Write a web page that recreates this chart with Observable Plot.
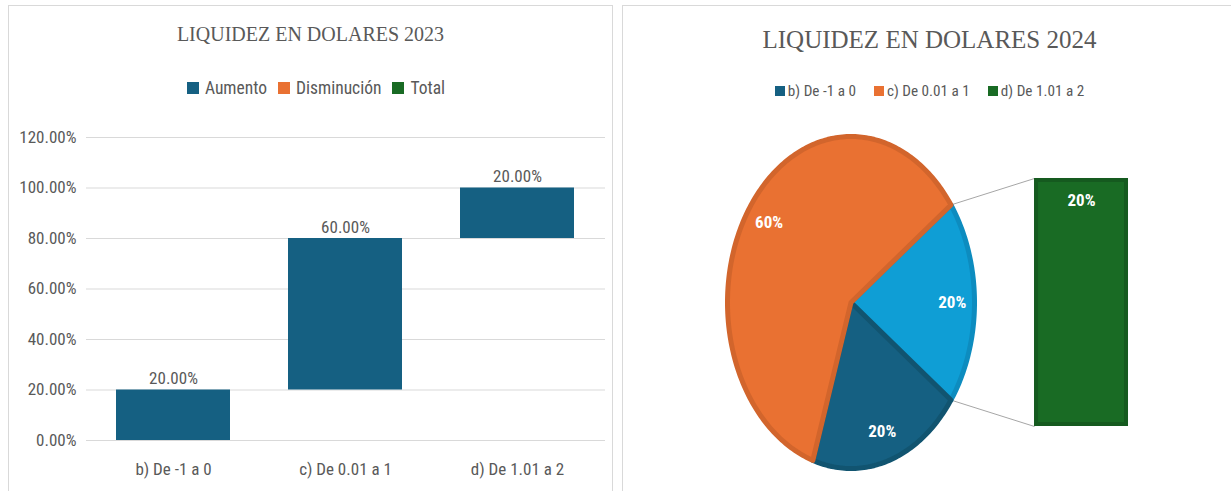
<!DOCTYPE html>
<html>
<head>
<meta charset="utf-8">
<script src="https://cdn.jsdelivr.net/npm/d3@7"></script>
<script src="https://cdn.jsdelivr.net/npm/@observablehq/plot@0.6"></script>
<style>
  body { margin: 0; background: #fff; width: 1231px; height: 491px; overflow: hidden; position: relative; }
  .panel { position: absolute; top: 5px; height: 500px; border: 1px solid #d9d9d9; box-sizing: border-box; background: #fff; }
  .title { position: absolute; left: 0; right: 0; text-align: center; font-family: "Liberation Serif", "DejaVu Serif", serif; color: #595959; }
  .legend { position: absolute; left: 0; right: 0; text-align: center; font-family: "Liberation Sans Narrow", "Roboto Condensed", "Open Sans", sans-serif; color: #595959; white-space: nowrap; }
  .legend span.sw { display: inline-block; vertical-align: middle; }
  .legend span.it { display: inline-block; vertical-align: middle; }
  .plot { position: absolute; }
</style>
</head>
<body>
<div class="panel" id="p1" style="left:8px;width:605px;">
  <div class="title" style="top:17px;font-size:20px;">LIQUIDEZ EN DOLARES 2023</div>
  <div class="legend" id="leg1" style="top:71px;font-size:17.5px;padding-left:11px;"></div>
  <div class="plot" id="c1" style="left:0px;top:108px;"></div>
</div>
<div class="panel" id="p2" style="left:622px;width:615px;">
  <div class="title" style="top:20px;font-size:25px;">LIQUIDEZ EN DOLARES 2024</div>
  <div class="legend" id="leg2" style="top:75px;font-size:15.2px;"></div>
  <div class="plot" id="c2" style="left:1px;top:114px;"></div>
</div>
<script>
// ---------- data ----------
const categories = ["b) De -1 a 0", "c) De 0.01 a 1", "d) De 1.01 a 2"];
const values2023 = [0.20, 0.60, 0.20];
const types2023 = ["Aumento", "Aumento", "Aumento"];
const legend2023 = ["Aumento", "Disminución", "Total"];
const yTicks2023 = [0, 0.2, 0.4, 0.6, 0.8, 1.0, 1.2];

const values2024 = [0.20, 0.60, 0.20];       // b, c, d
const inPie2024 = [true, true, false];        // d goes to the secondary bar
const otherLabel = "Otro";

// colours
const cBlue = "#156082", cOrange = "#e97132", cGreen = "#196b24", cLight = "#0f9ed5";
const typeColors = {"Aumento": cBlue, "Disminución": cOrange, "Total": cGreen};
const catColors = [cBlue, cOrange, cGreen];

// ---------- legends ----------
function legend(el, names, colors, sw, gap, between) {
  el.innerHTML = names.map((n, i) =>
    `<span class="sw" style="width:${sw}px;height:${sw}px;background:${colors[i]};margin-right:${gap}px"></span>` +
    `<span class="it" style="margin-right:${i < names.length - 1 ? between : 0}px">${n}</span>`).join("");
}
legend(document.getElementById("leg1"), legend2023, legend2023.map(d => typeColors[d]), 12, 6, 11);
legend(document.getElementById("leg2"), categories, catColors, 10, 3, 18);

// ---------- 2023 waterfall ----------
const ends = Array.from(d3.cumsum(values2023));
const wf = categories.map((c, i) => ({cat: c, y1: ends[i] - values2023[i], y2: ends[i], v: values2023[i], type: types2023[i]}));

const chart1 = Plot.plot({
  width: 603, height: 376,
  marginLeft: 77, marginRight: 7, marginTop: 23, marginBottom: 50,
  style: {fontFamily: '"Liberation Sans Narrow", "Roboto Condensed", "Open Sans", sans-serif', fontSize: "17px", color: "#595959", background: "transparent"},
  x: {domain: categories, paddingInner: 0.335, paddingOuter: 0.17, label: null},
  y: {domain: [0, 1.2], label: null},
  color: {domain: legend2023, range: legend2023.map(d => typeColors[d])},
  marks: [
    Plot.ruleY(yTicks2023, {stroke: "#d9d9d9", strokeWidth: 1}),
    Plot.rectY(wf, {x: "cat", y1: "y1", y2: "y2", fill: "type", inset: 0}),
    Plot.text(wf, {x: "cat", y: "y2", text: d => d3.format(".2%")(d.v), dy: -11, fill: "#595959", fontSize: 17}),
    Plot.axisY({ticks: yTicks2023, tickFormat: d3.format(".2%"), tickSize: 0, tickPadding: 10, fill: "#595959"}),
    Plot.axisX({tickSize: 0, tickPadding: 22, fill: "#595959"})
  ]
});
document.getElementById("c1").appendChild(chart1);

// ---------- 2024 pie of bar ----------
const otherShare = d3.sum(values2024.filter((v, i) => !inPie2024[i]));
// slices clockwise starting with the "other" slice centred on the right
const slices = [{name: otherLabel, v: otherShare, fill: cLight, stroke: "#0d8cbf"}];
categories.forEach((c, i) => { if (inPie2024[i]) slices.push({name: c, v: values2024[i], fill: catColors[i], stroke: i === 0 ? "#115470" : "#d2652c"}); });
let a0 = -otherShare * Math.PI; // screen angle, clockwise
slices.forEach(s => { s.a0 = a0; s.a1 = a0 + s.v * 2 * Math.PI; a0 = s.a1; s.mid = (s.a0 + s.a1) / 2; });

const polyPts = [];
slices.forEach(s => {
  polyPts.push({name: s.name, x: 0, y: 0, fill: s.fill, stroke: s.stroke});
  const n = Math.ceil((s.a1 - s.a0) / (Math.PI / 180));
  for (let k = 0; k <= n; k++) {
    const a = s.a0 + (s.a1 - s.a0) * k / n;
    polyPts.push({name: s.name, x: Math.cos(a), y: -Math.sin(a), fill: s.fill, stroke: s.stroke});
  }
});
const labelR = 0.82;
const pieLabels = slices.map(s => ({x: labelR * Math.cos(s.mid), y: -labelR * Math.sin(s.mid), t: d3.format(".0%")(s.v)}));

// secondary bar (contains the values not in the pie)
const barX1 = 1.486, barX2 = 2.247, barTop = 0.747, barBottom = -0.747;
const barItems = [];
let acc = 0;
values2024.forEach((v, i) => {
  if (!inPie2024[i]) {
    const f0 = acc / otherShare, f1 = (acc + v) / otherShare;
    barItems.push({name: categories[i], v, y1: barBottom + f0 * (barTop - barBottom), y2: barBottom + f1 * (barTop - barBottom), fill: catColors[i]});
    acc += v;
  }
});
const otherSlice = slices[0];
const links = [
  {x1: Math.cos(otherSlice.a0), y1: -Math.sin(otherSlice.a0), x2: barX1, y2: barTop},
  {x1: Math.cos(otherSlice.a1), y1: -Math.sin(otherSlice.a1), x2: barX1, y2: barBottom}
];

const W2 = 606, H2 = 366, cx = 226.5, cy = 182, rx = 123.5, ry = 166;
const chart2 = Plot.plot({
  width: W2, height: H2, margin: 0,
  style: {fontFamily: '"Liberation Sans Narrow", "Roboto Condensed", "Open Sans", sans-serif', background: "transparent"},
  x: {domain: [-cx / rx, (W2 - cx) / rx], axis: null},
  y: {domain: [-(H2 - cy) / ry, cy / ry], axis: null},
  marks: [
    Plot.link(links, {x1: "x1", y1: "y1", x2: "x2", y2: "y2", stroke: "#a6a6a6", strokeWidth: 1}),
    Plot.line(polyPts, {x: "x", y: "y", z: "name", fill: d => d.fill, stroke: d => d.stroke, strokeWidth: 5, strokeLinejoin: "round", curve: "linear-closed"}),
    Plot.rect(barItems, {x1: barX1, x2: barX2, y1: "y1", y2: "y2", fill: d => d.fill, stroke: "#155a1f", strokeWidth: 4, inset: 2}),
    Plot.text(pieLabels, {x: "x", y: "y", text: "t", fill: "white", fontWeight: "bold", fontSize: 17}),
    Plot.text(barItems, {x: (barX1 + barX2) / 2, y: "y2", text: d => d3.format(".0%")(d.v), dy: 22, fill: "white", fontWeight: "bold", fontSize: 17})
  ]
});
document.getElementById("c2").appendChild(chart2);
</script>
</body>
</html>
